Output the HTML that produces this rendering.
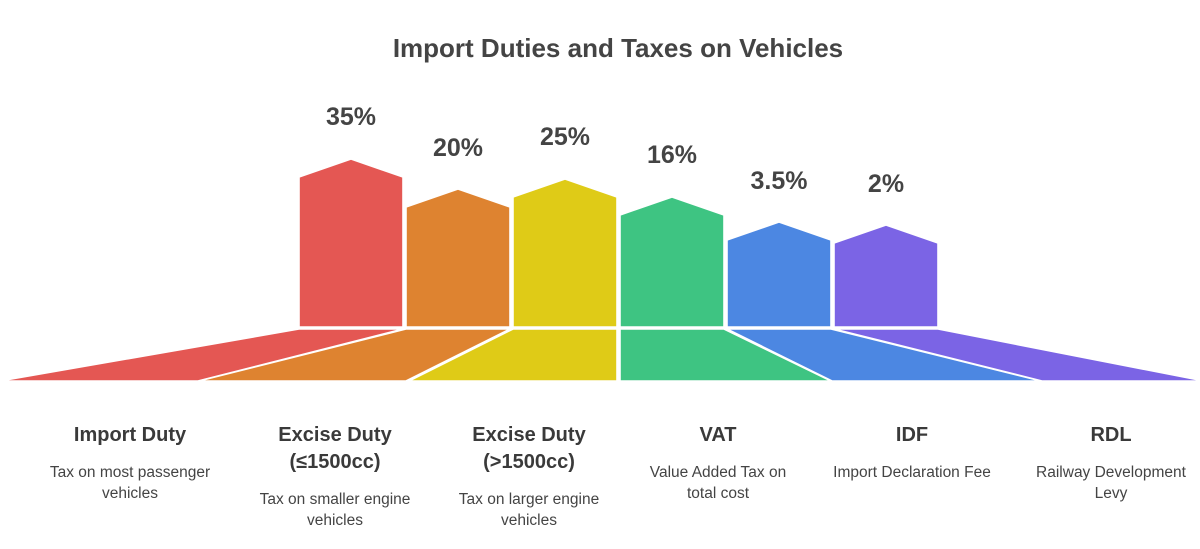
<!DOCTYPE html>
<html><head><style>
body{margin:0;background:#fff;font-family:"Liberation Sans",sans-serif;}
.w{position:relative;width:1200px;height:549px;overflow:hidden;}
.t{position:absolute;top:33px;left:0;width:1236px;text-align:center;font-weight:bold;font-size:26px;color:#444;}
.p{position:absolute;width:120px;margin-left:-60px;text-align:center;font-weight:bold;font-size:25px;color:#444;}
.c{position:absolute;width:180px;margin-left:-90px;text-align:center;color:#444;}
.c b{display:block;font-size:20px;line-height:27px;color:#3a3a3a;}
.c span{display:block;font-size:15.5px;line-height:21px;margin-top:13px;}
</style></head><body><div class="w">
<div class="t">Import Duties and Taxes on Vehicles</div>
<svg width="1200" height="549" style="position:absolute;left:0;top:0">
<g stroke="#fff" stroke-width="1.6" stroke-linejoin="round">
<polygon points="299,327 299,177 351,159 403,177 403,327" fill="#e45753"/>
<polygon points="406,327 406,207 458,189 510,207 510,327" fill="#de8330"/>
<polygon points="513,327 513,197 565,179 617,197 617,327" fill="#dfcb17"/>
<polygon points="620,327 620,215 672,197 724,215 724,327" fill="#3ec482"/>
<polygon points="727,327 727,240 779,222 831,240 831,327" fill="#4c87e2"/>
<polygon points="834,327 834,243 886,225 938,243 938,327" fill="#7b64e5"/>
<polygon points="299,329 403,329 198,381 0,381" fill="#e45753"/>
<polygon points="406,329 510,329 406,381 199,381" fill="#de8330"/>
<polygon points="513,329 617,329 617,381 409,381" fill="#dfcb17"/>
<polygon points="620,329 724,329 831,381 620,381" fill="#3ec482"/>
<polygon points="727,329 831,329 1041,381 832,381" fill="#4c87e2"/>
<polygon points="834,329 938,329 1204,381 1042,381" fill="#7b64e5"/>
</g>
</svg>
<div class="p" style="left:351px;top:103px">35%</div>
<div class="p" style="left:458px;top:134px">20%</div>
<div class="p" style="left:565px;top:123px">25%</div>
<div class="p" style="left:672px;top:141px">16%</div>
<div class="p" style="left:779px;top:167px">3.5%</div>
<div class="p" style="left:886px;top:170px">2%</div>
<div class="c" style="left:130px;top:422px"><b>Import Duty</b><span>Tax on most passenger vehicles</span></div>
<div class="c" style="left:335px;top:422px"><b>Excise Duty<br>(≤1500cc)</b><span>Tax on smaller engine vehicles</span></div>
<div class="c" style="left:529px;top:422px"><b>Excise Duty<br>(&gt;1500cc)</b><span>Tax on larger engine vehicles</span></div>
<div class="c" style="left:718px;top:422px;width:160px;margin-left:-80px"><b>VAT</b><span>Value Added Tax on total cost</span></div>
<div class="c" style="left:912px;top:422px"><b>IDF</b><span>Import Declaration Fee</span></div>
<div class="c" style="left:1111px;top:422px;width:170px;margin-left:-85px"><b>RDL</b><span>Railway Development Levy</span></div>
</div></body></html>
